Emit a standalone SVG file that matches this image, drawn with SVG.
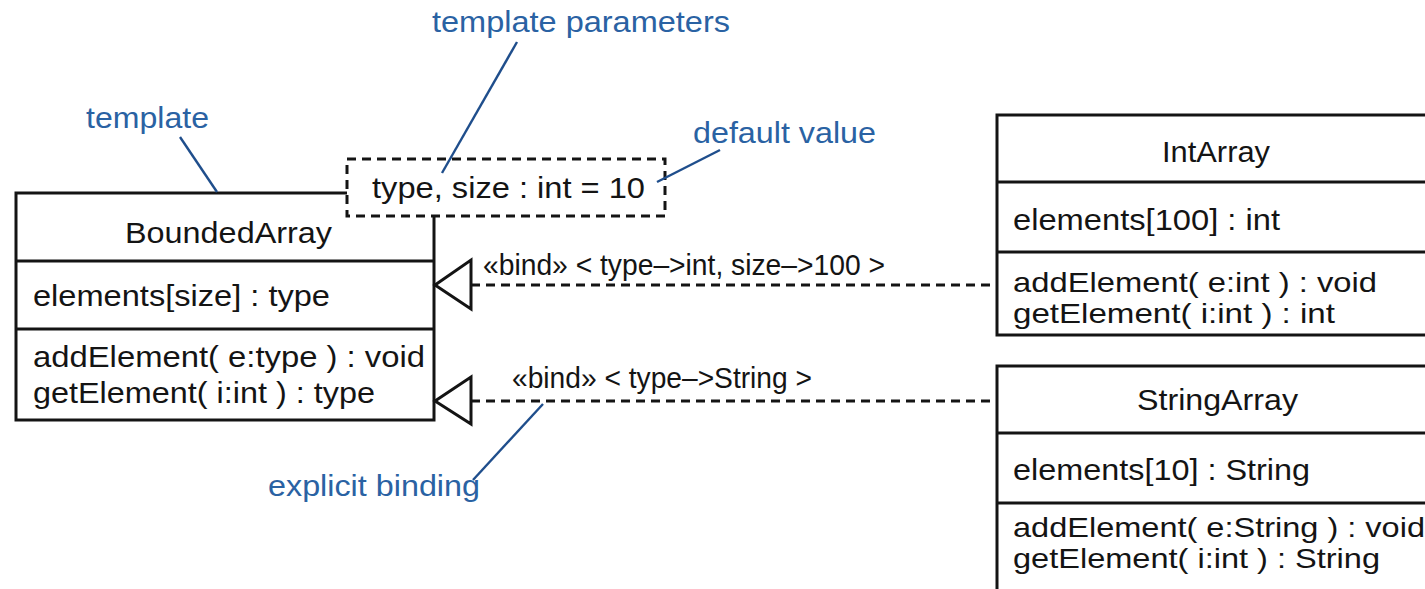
<svg xmlns="http://www.w3.org/2000/svg" width="1425" height="589" viewBox="0 0 1425 589">
<style>
.t{font-family:"Liberation Sans",Arial,sans-serif;font-size:30px;fill:#141414}
.s{font-family:"Liberation Sans",Arial,sans-serif;font-size:28px;fill:#141414}
.n{font-family:"Liberation Sans",Arial,sans-serif;font-size:30px;fill:#2a62a3}
.box{fill:#fff;stroke:#141414;stroke-width:3}
.div{stroke:#141414;stroke-width:3}
.dash{fill:none;stroke:#141414;stroke-width:3;stroke-dasharray:9 6}
.lead{stroke:#1f4e8c;stroke-width:2.4;fill:none}
.tri{fill:#fff;stroke:#141414;stroke-width:3}
</style>
<rect width="1425" height="589" fill="#fff"/>
<g id="BoundedArray">
<rect class="box" x="16" y="193" width="418" height="227"/>
<line class="div" x1="16" y1="261" x2="434" y2="261"/>
<line class="div" x1="16" y1="329" x2="434" y2="329"/>
<text class="t" x="125" y="243" textLength="207" lengthAdjust="spacingAndGlyphs">BoundedArray</text>
<text class="t" x="33" y="306" textLength="297" lengthAdjust="spacingAndGlyphs">elements[size] : type</text>
<text class="t" x="33" y="367" textLength="392" lengthAdjust="spacingAndGlyphs">addElement( e:type ) : void</text>
<text class="t" x="33" y="403" textLength="342" lengthAdjust="spacingAndGlyphs">getElement( i:int ) : type</text>
</g>
<g id="TemplateParams">
<rect x="347" y="159" width="318" height="57" fill="#fff"/>
<rect class="dash" x="347" y="159" width="318" height="57"/>
<text class="t" x="372" y="198" textLength="273" lengthAdjust="spacingAndGlyphs">type, size : int = 10</text>
</g>
<g id="IntArray">
<rect class="box" x="997" y="115" width="440" height="220"/>
<line class="div" x1="997" y1="182" x2="1437" y2="182"/>
<line class="div" x1="997" y1="252" x2="1437" y2="252"/>
<text class="t" x="1162" y="162" textLength="108" lengthAdjust="spacingAndGlyphs">IntArray</text>
<text class="t" x="1013" y="230" textLength="267" lengthAdjust="spacingAndGlyphs">elements[100] : int</text>
<text class="s" x="1013" y="292" textLength="364" lengthAdjust="spacingAndGlyphs">addElement( e:int ) : void</text>
<text class="s" x="1013" y="323" textLength="322" lengthAdjust="spacingAndGlyphs">getElement( i:int ) : int</text>
</g>
<g id="StringArray">
<rect class="box" x="997" y="366" width="440" height="240"/>
<line class="div" x1="997" y1="433" x2="1437" y2="433"/>
<line class="div" x1="997" y1="503" x2="1437" y2="503"/>
<text class="t" x="1137" y="410" textLength="161" lengthAdjust="spacingAndGlyphs">StringArray</text>
<text class="t" x="1013" y="480" textLength="297" lengthAdjust="spacingAndGlyphs">elements[10] : String</text>
<text class="s" x="1013" y="537" textLength="412" lengthAdjust="spacingAndGlyphs">addElement( e:String ) : void</text>
<text class="s" x="1013" y="568" textLength="367" lengthAdjust="spacingAndGlyphs">getElement( i:int ) : String</text>
</g>
<g id="connectors">
<line class="dash" x1="471" y1="285" x2="997" y2="285"/>
<polygon class="tri" points="435,285 471,260 471,309"/>
<text class="t" x="483" y="275" textLength="402" lengthAdjust="spacingAndGlyphs">«bind» &lt; type–&gt;int, size–&gt;100 &gt;</text>
<line class="dash" x1="471" y1="401" x2="997" y2="401"/>
<polygon class="tri" points="435,401 471,377 471,424"/>
<text class="t" x="512" y="388" textLength="300" lengthAdjust="spacingAndGlyphs">«bind» &lt; type–&gt;String &gt;</text>
</g>
<g id="notes">
<text class="n" x="86" y="128" textLength="123" lengthAdjust="spacingAndGlyphs">template</text>
<line class="lead" x1="180" y1="137" x2="217" y2="192"/>
<text class="n" x="432" y="32" textLength="298" lengthAdjust="spacingAndGlyphs">template parameters</text>
<line class="lead" x1="517" y1="42" x2="442" y2="173"/>
<text class="n" x="693" y="143" textLength="183" lengthAdjust="spacingAndGlyphs">default value</text>
<line class="lead" x1="720" y1="150" x2="657" y2="182"/>
<text class="n" x="268" y="496" textLength="212" lengthAdjust="spacingAndGlyphs">explicit binding</text>
<line class="lead" x1="543" y1="404" x2="473" y2="480"/>
</g>
</svg>
